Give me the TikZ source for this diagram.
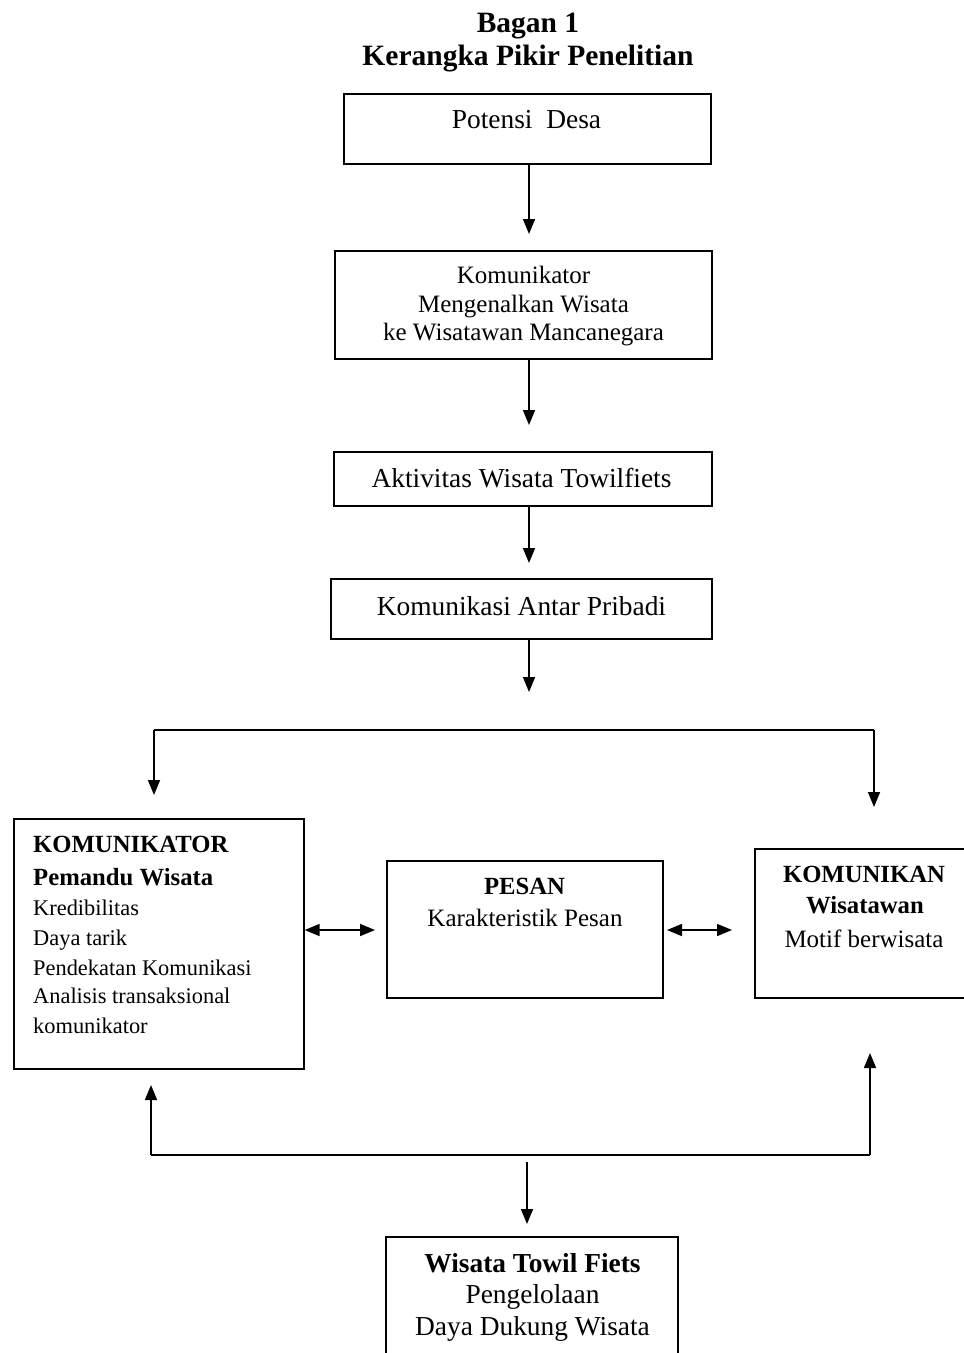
\documentclass[tikz,border=0pt]{standalone}
\usepackage{fontspec}
\setmainfont{Liberation Serif}
\usetikzlibrary{arrows.meta}
\begin{document}
\begin{tikzpicture}[x=1pt,y=-1pt,
  box/.style={draw, line width=1.7pt, inner sep=0pt, anchor=north west},
  arr/.style={line width=1.6pt, -{Triangle[length=15pt,width=12pt]}},
  darr/.style={line width=1.6pt, {Triangle[length=15pt,width=12pt]}-{Triangle[length=15pt,width=12pt]}},
  ln/.style={line width=1.6pt},
  txt/.style={anchor=base, inner sep=0pt},
  ltxt/.style={anchor=base west, inner sep=0pt},
  ttl/.style={txt, font=\fontsize{29.5}{32}\selectfont\bfseries},
  big/.style={txt, font=\fontsize{27.4}{30}\selectfont},
  bigb/.style={txt, font=\fontsize{27.4}{30}\selectfont\bfseries},
  mid/.style={txt, font=\fontsize{25}{28}\selectfont},
  midb/.style={txt, font=\fontsize{24.7}{28}\selectfont\bfseries},
  lb/.style={ltxt, font=\fontsize{24.7}{28}\selectfont\bfseries},
  ls/.style={ltxt, font=\fontsize{22.4}{26}\selectfont},
]
\useasboundingbox (0,0) rectangle (964,1353);

% title
\node[ttl] (t1) at (528,32) {Bagan 1};
\node[ttl] (t2) at (528,65) {Kerangka Pikir Penelitian};

% top boxes
\node[box, minimum width=367pt, minimum height=70pt] (b1) at (343,93) {};
\node[big] (b1t) at (526.5,128) {Potensi\ \ Desa};

\node[box, minimum width=377pt, minimum height=108pt] (b2) at (334,250) {};
\node[mid] (b2a) at (523.5,283) {Komunikator};
\node[mid] (b2b) at (523.5,312) {Mengenalkan Wisata};
\node[mid] (b2c) at (523.5,340) {ke Wisatawan Mancanegara};

\node[box, minimum width=378pt, minimum height=54pt] (b3) at (333,451) {};
\node[big] (b3t) at (521.5,487) {Aktivitas Wisata Towilfiets};

\node[box, minimum width=381pt, minimum height=60pt] (b4) at (330,578) {};
\node[big] (b4t) at (521.5,615) {Komunikasi Antar Pribadi};

% vertical arrows
\coordinate (ax) at (529,0);
\coordinate (e4) at (529,692);
\draw[arr] (b1.south -| ax) -- ([yshift=16pt]b2.north -| ax);
\draw[arr] (b2.south -| ax) -- ([yshift=26pt]b3.north -| ax);
\draw[arr] (b3.south -| ax) -- ([yshift=15pt]b4.north -| ax);
\draw[arr] (b4.south -| ax) -- (e4);

% top bracket
\coordinate (tl) at (154,730);
\coordinate (tr) at (874,730);
\coordinate (tle) at (154,795);
\coordinate (tre) at (874,807);
\draw[ln] (tl) -- (tr);
\draw[arr] (tl) -- (tle);
\draw[arr] (tr) -- (tre);

% left box
\node[box, minimum width=290pt, minimum height=250pt] (L) at (13,818) {};
\node[lb] (L1) at (33,852) {KOMUNIKATOR};
\node[lb] (L2) at (33,885) {Pemandu Wisata};
\node[ls] (L3) at (33,915) {Kredibilitas};
\node[ls] (L4) at (33,945) {Daya tarik};
\node[ls] (L5) at (33,975) {Pendekatan Komunikasi};
\node[ls] (L6) at (33,1003) {Analisis transaksional};
\node[ls] (L7) at (33,1033) {komunikator};

% middle box
\node[box, minimum width=276pt, minimum height=137pt] (M) at (386,860) {};
\node[midb] (M1) at (524.5,894) {PESAN};
\node[mid] (M2) at (525,926) {Karakteristik Pesan};

% right box
\node[box, minimum width=214pt, minimum height=149pt] (R) at (754,848) {};
\node[midb] (R1) at (864,882) {KOMUNIKAN};
\node[midb] (R2) at (865,913) {Wisatawan};
\node[mid] (R3) at (864,947) {Motif berwisata};

% double arrows
\coordinate (d1) at (375,930);
\coordinate (d2a) at (667,930);
\coordinate (d2b) at (732,930);
\draw[darr] (d1 -| L.east) -- (d1);
\draw[darr] (d2a) -- (d2b);

% bottom bracket
\coordinate (bl) at (151,1155);
\coordinate (br) at (870,1155);
\coordinate (ble) at (151,1085);
\coordinate (bre) at (870,1053);
\draw[ln] (bl) -- (br);
\draw[arr] (bl) -- (ble);
\draw[arr] (br) -- (bre);
\coordinate (ds) at (527,1162);
\coordinate (de) at (527,1224);
\draw[arr] (ds) -- (de);

% bottom box
\node[box, minimum width=292pt, minimum height=124pt] (B) at (385,1236) {};
\node[bigb] (B1) at (532.5,1272) {Wisata Towil Fiets};
\node[big] (B2) at (532.5,1303) {Pengelolaan};
\node[big] (B3) at (532.5,1335) {Daya Dukung Wisata};
\end{tikzpicture}
\end{document}
